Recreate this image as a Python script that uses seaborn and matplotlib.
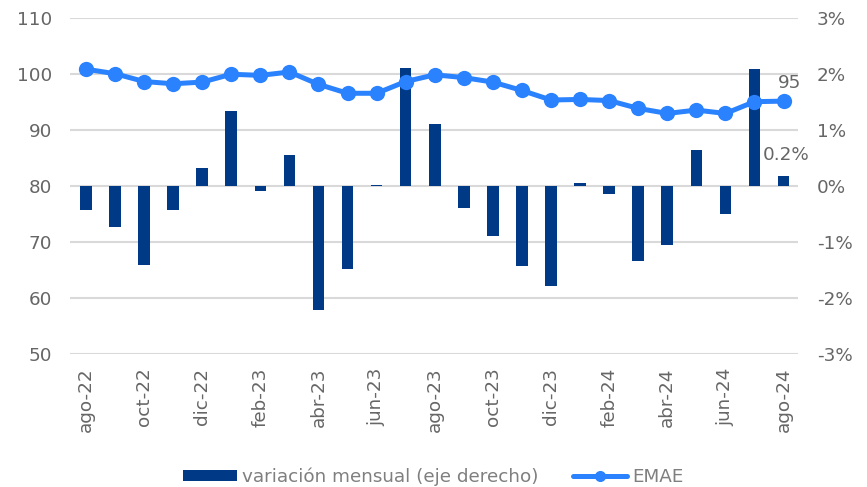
import matplotlib.pyplot as plt
import seaborn as sns
import numpy as np
import pandas as pd

# months shown on x axis (ago-22 .. ago-24)
months = ['ago-22', 'sep-22', 'oct-22', 'nov-22', 'dic-22', 'ene-23', 'feb-23',
          'mar-23', 'abr-23', 'may-23', 'jun-23', 'jul-23', 'ago-23', 'sep-23',
          'oct-23', 'nov-23', 'dic-23', 'ene-24', 'feb-24', 'mar-24', 'abr-24',
          'may-24', 'jun-24', 'jul-24', 'ago-24']

# EMAE index (left axis)
emae = [100.8, 100.0, 98.6, 98.2, 98.5, 99.9, 99.7, 100.3, 98.1, 96.5, 96.5,
        98.6, 99.8, 99.3, 98.5, 97.0, 95.3, 95.4, 95.2, 93.8, 92.9, 93.5,
        92.9, 95.0, 95.1]

# monthly variation, % (right axis)
var_mensual = [-0.43, -0.74, -1.42, -0.43, 0.31, 1.34, -0.09, 0.55, -2.22, -1.48,
               0.02, 2.10, 1.11, -0.40, -0.89, -1.43, -1.79, 0.05, -0.15, -1.34,
               -1.06, 0.64, -0.51, 2.08, 0.18]

df = pd.DataFrame({'mes': months, 'x': np.arange(len(months)),
                   'emae': emae, 'var': var_mensual})

sns.set_theme(style='white')
plt.rcParams['font.family'] = ['DejaVu Sans']

text_col = '#666666'
legend_col = '#7F7F7F'
bar_col = '#003A87'
line_col = '#2A82FF'
grid_col = '#D9D9D9'
fs = 13.2

fig, ax = plt.subplots(figsize=(8.67, 4.87), dpi=100)
fig.subplots_adjust(left=0.0807, right=0.9205, top=0.9637, bottom=0.2737)
ax2 = ax.twinx()

# bars on the right axis, behind the line
sns.barplot(data=df, x='x', y='var', color=bar_col, width=0.4, saturation=1,
            linewidth=0, ax=ax2, label='variación mensual (eje derecho)', zorder=2)
ax2.set_ylim(-3, 3)
ax2.set_yticks([-3, -2, -1, 0, 1, 2, 3])
ax2.set_yticklabels([f'{v}%' for v in [-3, -2, -1, 0, 1, 2, 3]])
ax2.yaxis.grid(True, color=grid_col, linewidth=1.5)
ax2.set_axisbelow(True)
ax2.set_ylabel('')

sns.lineplot(data=df, x='x', y='emae', color=line_col, linewidth=3.6,
             marker='o', markersize=11, markeredgewidth=0, ax=ax, label='EMAE')
ax.set_ylim(50, 110)
ax.set_yticks(range(50, 111, 10))
ax.set_ylabel('')
ax.set_xlabel('')

ax.set_zorder(ax2.get_zorder() + 1)
ax.patch.set_visible(False)

ax.set_xlim(-0.55, len(months) - 0.5)
ax.set_xticks(df['x'][::2])
ax.set_xticklabels(df['mes'][::2], rotation=90)
ax2.set_xlabel('')

for a in (ax, ax2):
    for s in a.spines.values():
        s.set_visible(False)
    a.tick_params(axis='both', length=0, labelsize=fs, labelcolor=text_col)
ax.tick_params(axis='y', pad=13)
ax2.tick_params(axis='y', pad=13.5)
ax.tick_params(axis='x', pad=10)

# data labels for last point
ax.annotate(f'{emae[-1]:.0f}', (df['x'].iloc[-1], emae[-1]), xytext=(4, 13),
            textcoords='offset points', ha='center', va='center',
            fontsize=fs, color=text_col)
ax2.annotate(f'{var_mensual[-1]:.1f}%', (df['x'].iloc[-1], var_mensual[-1]),
             xytext=(2, 15), textcoords='offset points', ha='center',
             va='center', fontsize=fs, color=text_col)

h1, l1 = ax2.get_legend_handles_labels()
h2, l2 = ax.get_legend_handles_labels()
for a in (ax, ax2):
    if a.get_legend():
        a.get_legend().remove()
leg = fig.legend(h1 + h2, l1 + l2, loc='center', bbox_to_anchor=(0.5, 0.021),
                 ncol=2, frameon=False, fontsize=fs, labelcolor=legend_col,
                 handlelength=2.9, handleheight=0.55, columnspacing=1.9,
                 handletextpad=0.3)
leg.legend_handles[1].set_markersize(8)

plt.savefig('out.png', dpi=100)
